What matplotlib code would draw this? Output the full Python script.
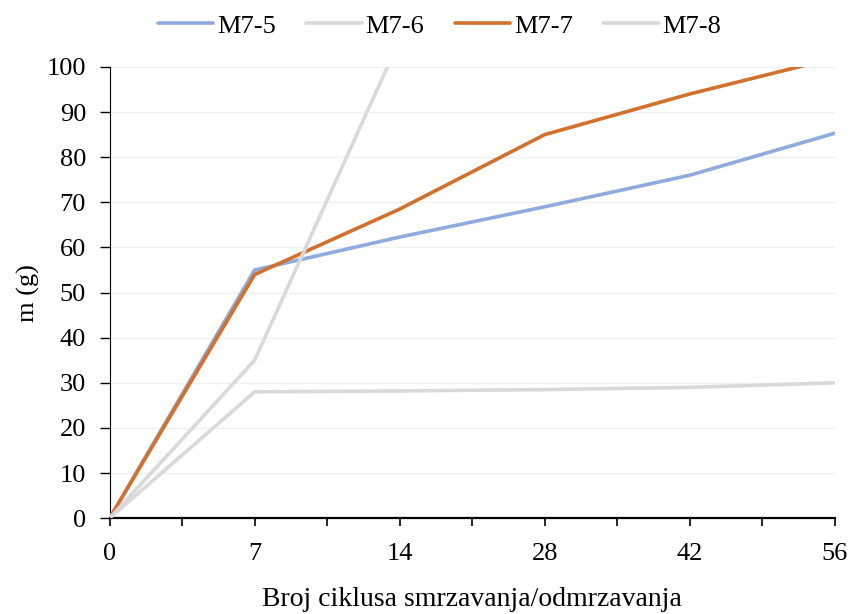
import matplotlib.pyplot as plt
import numpy as np

plt.rcParams['font.family'] = ['Liberation Serif', 'DejaVu Serif']

cycles = ['0', '7', '14', '28', '42', '56']
m7_5 = [0, 55, 62.3, 69, 76, 85.3]
m7_6 = [0, 28, 28.2, 28.5, 29, 30]
m7_7 = [0, 54, 68.5, 85, 94, 102]
m7_8 = [0, 35, 106, 140, 160, 175]

series = [
    ('M7-5', m7_5, '#8FAADC'),
    ('M7-6', m7_6, '#D9D9D9'),
    ('M7-7', m7_7, '#D2702C'),
    ('M7-8', m7_8, '#D9D9D9'),
]

fig = plt.figure(figsize=(8.5, 6.14), dpi=100)
ax = fig.add_axes([0.129, 0.156, 0.853, 0.735])

x = np.arange(len(cycles))
for name, vals, col in series:
    ax.plot(x, vals, color=col, lw=2.6, label=name, solid_capstyle='round', zorder=3)

ax.set_xlim(0, len(cycles) - 1)
ax.set_ylim(0, 100)
ax.set_yticks(range(0, 101, 10))
ax.set_xticks(x)
ax.set_xticklabels(cycles)
ax.set_xticks(x[:-1] + 0.5, minor=True)
ax.grid(axis='y', color='#F0F0F0', lw=1, zorder=0)
for s in ['top', 'right']:
    ax.spines[s].set_visible(False)
ax.spines['left'].set_color('black')
ax.spines['bottom'].set_color('black')
ax.spines['bottom'].set_linewidth(1.6)
ax.tick_params(axis='y', length=7, width=1, labelsize=19, pad=10)
ax.tick_params(axis='x', which='both', length=6, width=1.2, labelsize=19, pad=12)

ax.set_xlabel('Broj ciklusa smrzavanja/odmrzavanja', fontsize=20, labelpad=16)
ax.set_ylabel('m (g)', fontsize=19, labelpad=5)

ax.legend(loc='lower center', bbox_to_anchor=(0.455, 1.03), ncol=4, frameon=False,
          fontsize=19, handlelength=2.1, handletextpad=0.15, columnspacing=1.15,
          borderpad=0.1)

fig.savefig('out.png', dpi=100)
